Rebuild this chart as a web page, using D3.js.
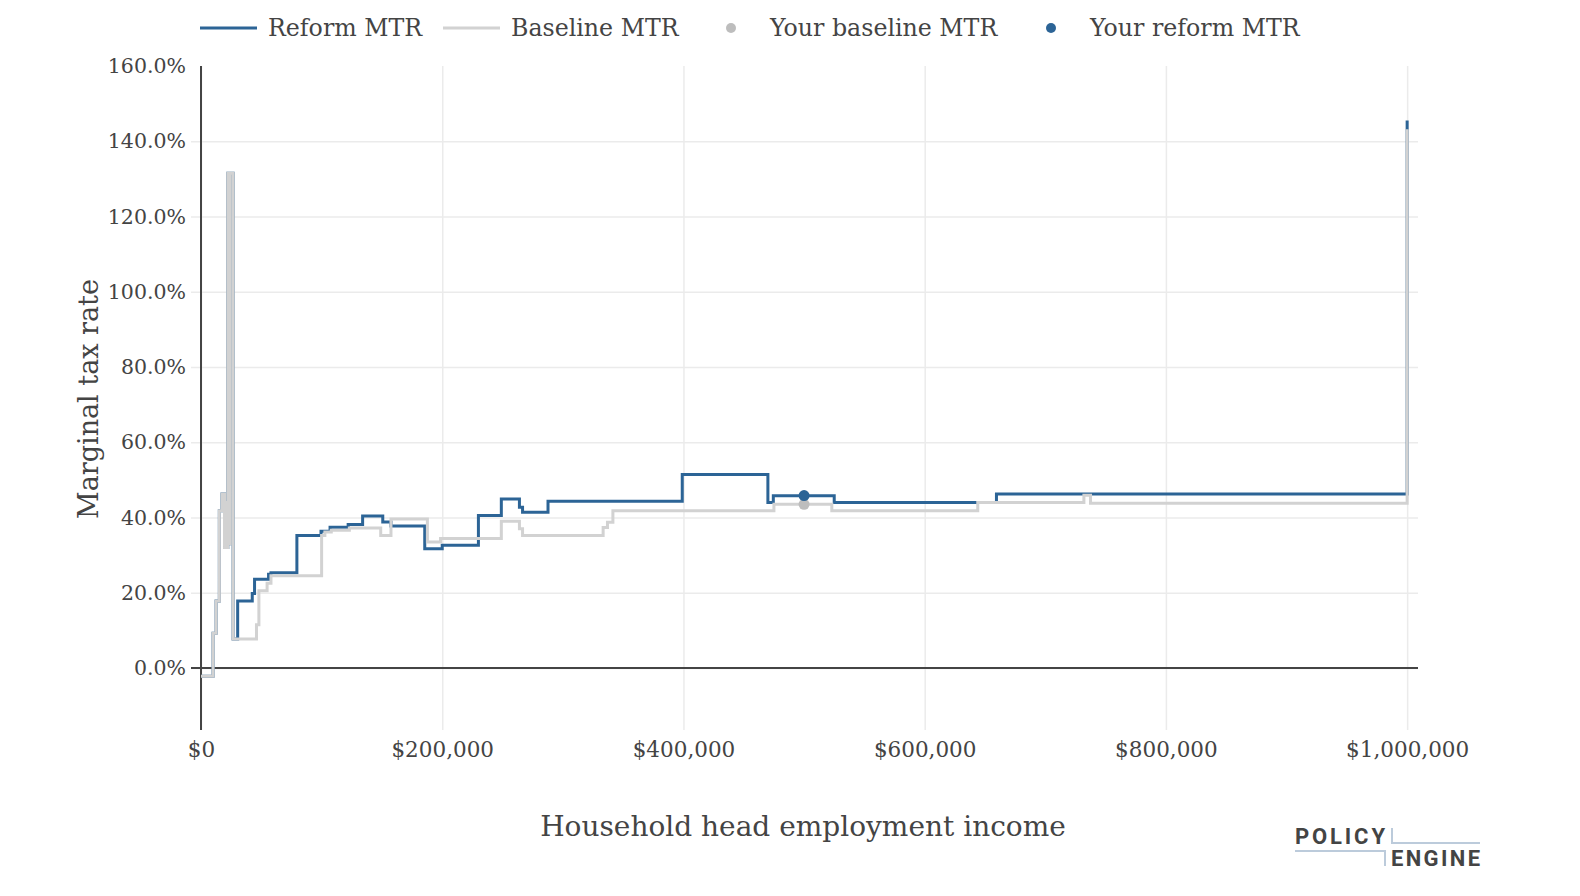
<!DOCTYPE html>
<html>
<head>
<meta charset="utf-8">
<script src="https://cdn.jsdelivr.net/npm/d3@7"></script>
<style>
	body { margin: 0; background: #fff; }
	svg { display: block; }
	text { font-family: "DejaVu Serif", serif; fill: #444; }
</style>
</head>
<body>
<div id="chart"></div>
<script>
///////////////////////////////////////////////////////////////////////////
//////////////////////////// data /////////////////////////////////////////
///////////////////////////////////////////////////////////////////////////

// step points: the rate holds from this income until the next one
const baselineIncome = [
	0, 10000, 12500, 15200, 17400, 19500, 20500, 21500, 22200, 23200, 24000,
	26600, 46000, 48000, 54800, 58000, 100000, 102700, 108000, 123000, 149000,
	157500, 187700, 198600, 249000, 264000, 266600, 333400, 337000, 341500,
	475000, 523000, 644000, 732000, 737500, 1000000
];
const baselineMtr = [
	-2.2, 9.2, 17.8, 41.8, 46.2, 32, 44, 32, 131.5, 33, 131.5,
	7.7, 11.5, 20.5, 22.5, 24.5, 35.2, 36.1, 36.6, 37.2, 35.2,
	39.6, 33.5, 34.4, 39, 37, 35.2, 37.3, 38.7, 41.8,
	43.5, 41.8, 44, 45.9, 43.8, 143.2
];

// reform equals baseline below $30k (hidden under the baseline line)
const reformIncome = [
	0, 10000, 12500, 15200, 17400, 19500, 20500, 21500, 22200, 23200, 24000,
	26600, 30400, 42500, 44400, 56000, 58000, 79500, 99500, 107000, 122000,
	134000, 150700, 157500, 185500, 200000, 230000, 249000, 264000, 266600,
	287700, 399000, 470000, 474500, 525000, 659500, 1000000
];
const reformMtr = [
	-2.2, 9.2, 17.8, 41.8, 46.2, 32, 44, 32, 131.5, 33, 131.5,
	7.7, 17.8, 19.8, 23.6, 24.9, 25.3, 35.2, 36.3, 37.4, 38.1,
	40.4, 38.8, 37.7, 31.7, 32.6, 40.5, 44.9, 42.7, 41.4,
	44.3, 51.4, 44, 45.8, 44, 46.2, 145.5
];

// the household's own point
const yourIncome = 500000;
const yourBaselineMtr = 43.5;
const yourReformMtr = 45.8;

const xTicks = [0, 200000, 400000, 600000, 800000, 1000000];
const yTicks = [0, 20, 40, 60, 80, 100, 120, 140, 160];

const legendLabels = ["Reform MTR", "Baseline MTR", "Your baseline MTR", "Your reform MTR"];

///////////////////////////////////////////////////////////////////////////
//////////////////////////// Set up svg ///////////////////////////////////
///////////////////////////////////////////////////////////////////////////

const width = 1580;
const height = 896;
const margin = { top: 66, right: 162, bottom: 166, left: 201 };

const blue = "#2c6496";
const gray = "#d2d2d2";
const dotGray = "#bdbdbd";

const svg = d3
	.select("#chart")
	.append("svg")
	.attr("width", width)
	.attr("height", height);

///////////////////////////////////////////////////////////////////////////
//////////////////////////// scales ///////////////////////////////////////
///////////////////////////////////////////////////////////////////////////

const xScale = d3
	.scaleLinear()
	.domain([0, 1009000])
	.range([margin.left, width - margin.right]);

const yScale = d3
	.scaleLinear()
	.domain([-16.5, 160])
	.range([height - margin.bottom, margin.top]);

///////////////////////////////////////////////////////////////////////////
//////////////////////////// axes /////////////////////////////////////////
///////////////////////////////////////////////////////////////////////////

const formatDollar = d3.format("$,.0f");

// vertical grid + x labels
const xAxis = d3
	.axisBottom(xScale)
	.tickValues(xTicks)
	.tickSize(-(height - margin.bottom - margin.top))
	.tickPadding(12)
	.tickFormat(formatDollar);

svg
	.append("g")
	.classed("x-axis", true)
	.attr("transform", `translate(0,${height - margin.bottom})`)
	.call(xAxis)
	.call((g) => g.select(".domain").remove())
	.call((g) => g.selectAll("line").attr("stroke", "#ebebeb").attr("stroke-width", 1.5))
	.call((g) =>
		g.selectAll("text")
			.style("font-size", "21.5px")
			.style("font-family", "DejaVu Serif")
			.attr("fill", "#444")
	);

// horizontal grid + y labels (short outside ticks in grid colour)
const yAxis = d3
	.axisLeft(yScale)
	.tickValues(yTicks)
	.tickSize(-(width - margin.right - margin.left) - 10)
	.tickPadding(5)
	.tickFormat((d) => d.toFixed(1) + "%");

svg
	.append("g")
	.classed("y-axis", true)
	.attr("transform", `translate(${margin.left - 10},0)`)
	.call(yAxis)
	.call((g) => g.select(".domain").remove())
	.call((g) =>
		g.selectAll("line")
			.attr("stroke", (d) => (d === 160 ? "none" : "#ebebeb"))
			.attr("stroke-width", 1.5)
	)
	.call((g) =>
		g.selectAll("text")
			.style("font-size", "20.5px")
			.style("font-family", "DejaVu Serif")
			.attr("fill", "#444")
	);

// zero line
svg
	.append("line")
	.attr("x1", margin.left - 10)
	.attr("x2", width - margin.right)
	.attr("y1", yScale(0))
	.attr("y2", yScale(0))
	.attr("stroke", "#444")
	.attr("stroke-width", 2);

// y axis line
svg
	.append("line")
	.attr("x1", margin.left)
	.attr("x2", margin.left)
	.attr("y1", margin.top)
	.attr("y2", height - margin.bottom)
	.attr("stroke", "#444")
	.attr("stroke-width", 2);

// axis titles
svg
	.append("text")
	.attr("x", 803)
	.attr("y", 836)
	.attr("text-anchor", "middle")
	.style("font-size", "28px")
	.text("Household head employment income");

svg
	.append("text")
	.attr("transform", `translate(98,399) rotate(-90)`)
	.attr("text-anchor", "middle")
	.style("font-size", "27px")
	.text("Marginal tax rate");

///////////////////////////////////////////////////////////////////////////
//////////////////////////// plot /////////////////////////////////////////
///////////////////////////////////////////////////////////////////////////

const line = d3
	.line()
	.x((d) => xScale(d[0]))
	.y((d) => yScale(d[1]))
	.curve(d3.curveStepAfter);

const reformData = d3.zip(reformIncome, reformMtr);
const baselineData = d3.zip(baselineIncome, baselineMtr);

// reform first, baseline drawn on top of it
svg
	.append("path")
	.datum(reformData)
	.attr("d", line)
	.attr("fill", "none")
	.attr("stroke", blue)
	.attr("stroke-width", 3);

svg
	.append("path")
	.datum(baselineData)
	.attr("d", line)
	.attr("fill", "none")
	.attr("stroke", gray)
	.attr("stroke-width", 3);

svg
	.append("circle")
	.attr("cx", xScale(yourIncome))
	.attr("cy", yScale(yourBaselineMtr))
	.attr("r", 5.5)
	.attr("fill", dotGray);

svg
	.append("circle")
	.attr("cx", xScale(yourIncome))
	.attr("cy", yScale(yourReformMtr))
	.attr("r", 5.5)
	.attr("fill", blue);

///////////////////////////////////////////////////////////////////////////
//////////////////////////// legend ///////////////////////////////////////
///////////////////////////////////////////////////////////////////////////

const legendX = [200, 443, 703, 1023];
const legendKind = ["line", "line", "dot", "dot"];
const legendColor = [blue, gray, dotGray, blue];

const legend = svg
	.selectAll(".legend")
	.data(legendLabels)
	.enter()
	.append("g")
	.attr("class", "legend")
	.attr("transform", (d, i) => `translate(${legendX[i]},28)`);

legend.each(function (d, i) {
	const g = d3.select(this);
	if (legendKind[i] === "line") {
		g.append("line")
			.attr("x1", 0)
			.attr("x2", 57)
			.attr("stroke", legendColor[i])
			.attr("stroke-width", 3);
	} else {
		g.append("circle")
			.attr("cx", 28)
			.attr("r", 5)
			.attr("fill", legendColor[i]);
	}
	g.append("text")
		.attr("x", legendKind[i] === "line" ? 68 : 67)
		.attr("dy", ".35em")
		.style("font-size", "23.7px")
		.text(d);
});

///////////////////////////////////////////////////////////////////////////
//////////////////////////// logo /////////////////////////////////////////
///////////////////////////////////////////////////////////////////////////

const logo = svg.append("g").attr("transform", "translate(1295,828)");
const logoLine = "#bccbdb";

logo.append("text")
	.attr("x", 0)
	.attr("y", 16)
	.attr("textLength", 90)
	.style("font-family", "Roboto, sans-serif")
	.style("font-weight", "700")
	.style("font-size", "22px")
	.attr("fill", blue)
	.text("POLICY");

logo.append("path")
	.attr("d", "M97,0V15H185")
	.attr("fill", "none")
	.attr("stroke", logoLine)
	.attr("stroke-width", 2);

logo.append("path")
	.attr("d", "M0,23H90V38")
	.attr("fill", "none")
	.attr("stroke", logoLine)
	.attr("stroke-width", 2);

logo.append("text")
	.attr("x", 96)
	.attr("y", 38)
	.attr("textLength", 89)
	.style("font-family", "Roboto, sans-serif")
	.style("font-weight", "700")
	.style("font-size", "22px")
	.attr("fill", blue)
	.text("ENGINE");
</script>
</body>
</html>
